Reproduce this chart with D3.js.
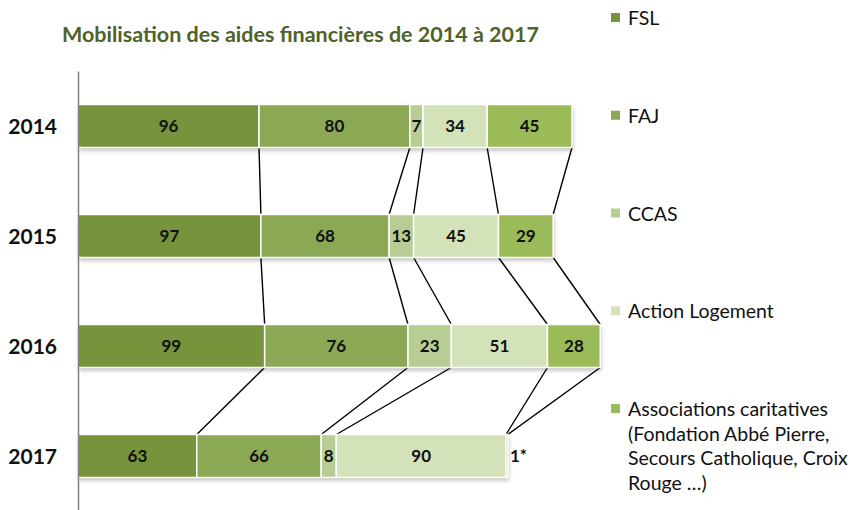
<!DOCTYPE html>
<html>
<head>
<meta charset="utf-8">
<script src="https://cdn.jsdelivr.net/npm/d3@7"></script>
<style>
  body { margin: 0; background: #fff; }
  text { font-family: Lato, 'Open Sans', sans-serif; }
</style>
</head>
<body>
<div id="chart"></div>
<script>
// Categories and series
const years = ['2014', '2015', '2016', '2017']
const series = ['FSL', 'FAJ', 'CCAS', 'Action Logement', 'Associations caritatives']
const legendLines = [
  ['FSL'],
  ['FAJ'],
  ['CCAS'],
  ['Action Logement'],
  ['Associations caritatives', '(Fondation Abbé Pierre,', 'Secours Catholique, Croix', 'Rouge …)']
]
const colors = ['#77933c', '#8ba855', '#b8cd94', '#d4e2ba', '#9bbb59']

// Values per series, one entry per year
const fsl = [96, 97, 99, 63]
const faj = [80, 68, 76, 66]
const ccas = [7, 13, 23, 8]
const actionLogement = [34, 45, 51, 90]
const associations = [45, 29, 28, 1]
// footnote marks on labels
const labelNotes = [['', '', '', '', ''], ['', '', '', '', ''], ['', '', '', '', ''], ['', '', '', '', '*']]

const values = [fsl, faj, ccas, actionLogement, associations]

;(function () {
  const width = 850
  const height = 510
  const barH = 43

  const svg = d3.select('#chart').append('svg')
    .attr('width', width)
    .attr('height', height)

  const defs = svg.append('defs')
  const f = defs.append('filter').attr('id', 'shadow')
    .attr('x', '-5%').attr('y', '-20%').attr('width', '110%').attr('height', '160%')
  f.append('feDropShadow')
    .attr('dx', 1).attr('dy', 3).attr('stdDeviation', 2)
    .attr('flood-color', '#000').attr('flood-opacity', 0.25)

  // Data rows: cumulative stacks per year
  const rows = years.map((y, i) => {
    let acc = 0
    const segs = series.map((s, k) => {
      const v = values[k][i]
      const seg = { year: y, key: s, k: k, v: v, x0: acc, x1: acc + v, note: labelNotes[i][k] }
      acc += v
      return seg
    })
    return { year: y, segs: segs, total: acc }
  })

  const xScale = d3.scaleLinear()
    .domain([0, 262])
    .range([78, 572])

  const yScale = d3.scalePoint()
    .domain(years)
    .range([71, 511])
    .padding(0.5)

  // Title
  svg.append('text')
    .attr('x', 62)
    .attr('y', 42)
    .attr('font-size', 21.5)
    .attr('font-weight', 'bold')
    .attr('fill', '#4f6228')
    .text('Mobilisation des aides financières de 2014 à 2017')

  // Connector lines between consecutive bars
  const links = []
  for (let i = 0; i < rows.length - 1; i++) {
    rows[i].segs.forEach((s, k) => {
      links.push({
        x1: xScale(s.x1),
        y1: yScale(rows[i].year) + barH / 2,
        x2: xScale(rows[i + 1].segs[k].x1),
        y2: yScale(rows[i + 1].year) - barH / 2
      })
    })
  }
  svg.append('g').selectAll('line')
    .data(links)
    .enter().append('line')
    .attr('x1', d => d.x1).attr('y1', d => d.y1)
    .attr('x2', d => d.x2).attr('y2', d => d.y2)
    .attr('stroke', '#000')
    .attr('stroke-width', 1.4)

  // Bars
  const rowG = svg.append('g').selectAll('g.row')
    .data(rows)
    .enter().append('g')
    .attr('class', 'row')

  rowG.append('rect')
    .attr('x', xScale(0))
    .attr('y', d => yScale(d.year) - barH / 2)
    .attr('width', d => xScale(d.total) - xScale(0))
    .attr('height', barH)
    .attr('fill', '#fff')
    .attr('filter', 'url(#shadow)')

  rowG.selectAll('rect.seg')
    .data(d => d.segs)
    .enter().append('rect')
    .attr('class', 'seg')
    .attr('x', d => xScale(d.x0))
    .attr('y', d => yScale(d.year) - barH / 2)
    .attr('width', d => xScale(d.x1) - xScale(d.x0))
    .attr('height', barH)
    .attr('fill', d => colors[d.k])
    .attr('stroke', '#fff')
    .attr('stroke-width', 1.5)

  rowG.selectAll('text.lbl')
    .data(d => d.segs)
    .enter().append('text')
    .attr('class', 'lbl')
    .attr('x', d => d.note ? xScale(d.x1) + 2 : (xScale(d.x0) + xScale(d.x1)) / 2)
    .attr('y', d => yScale(d.year) + 6)
    .attr('text-anchor', d => d.note ? 'start' : 'middle')
    .attr('font-size', 17)
    .attr('font-weight', 'bold')
    .attr('fill', '#111')
    .text(d => d.v + d.note)

  // Y axis
  const yAxis = d3.axisLeft(yScale).tickSize(0).tickPadding(21)
  const axisG = svg.append('g')
    .attr('transform', 'translate(78,0)')
    .call(yAxis)
  axisG.select('.domain').attr('stroke', '#808080').attr('stroke-width', 1.5)
  axisG.selectAll('text')
    .attr('font-size', 21)
    .attr('font-weight', 'bold')
    .attr('fill', '#111')
    .attr('dy', '0.36em')
    .attr('font-family', 'Lato, sans-serif')

  // Legend
  const legendY = d3.scalePoint().domain(series).range([25, 416])
  const leg = svg.append('g').selectAll('g')
    .data(series)
    .enter().append('g')
    .attr('transform', d => 'translate(611,' + legendY(d) + ')')
  leg.append('rect')
    .attr('x', 0).attr('y', -12)
    .attr('width', 9).attr('height', 9)
    .attr('fill', (d, i) => colors[i])
  leg.append('text')
    .attr('font-size', 19.5)
    .attr('fill', '#111')
    .selectAll('tspan')
    .data((d, i) => legendLines[i])
    .enter().append('tspan')
    .attr('x', 17)
    .attr('y', (d, j) => j * 24.5)
    .text(d => d)
}())
</script>
</body>
</html>
